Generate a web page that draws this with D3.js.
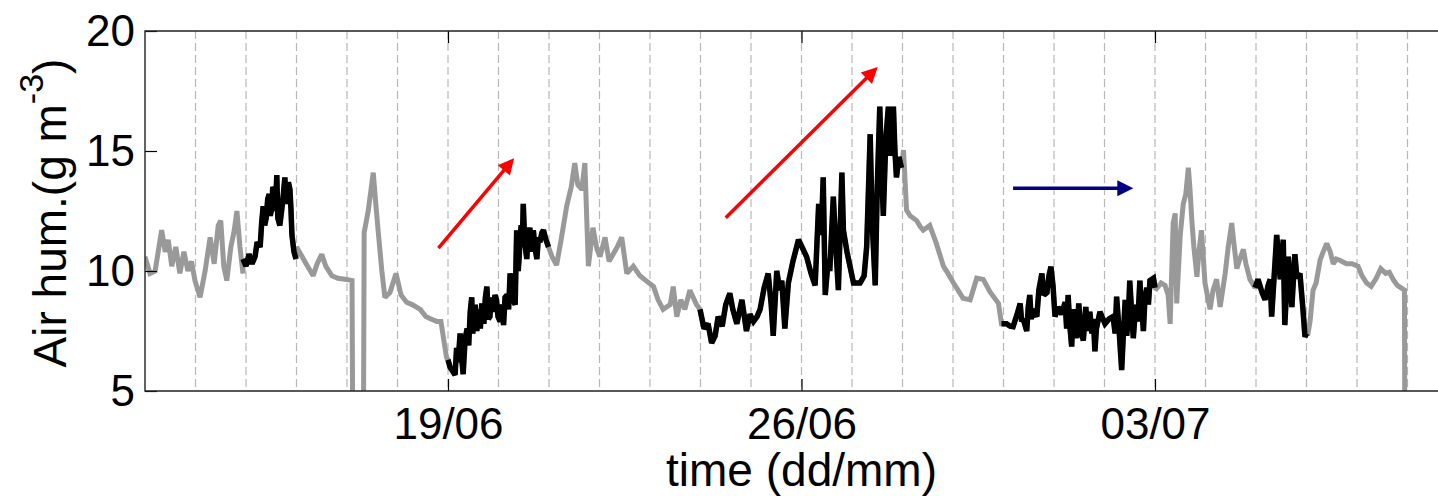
<!DOCTYPE html>
<head>
    <meta charset="utf-8">
    <script src="https://d3js.org/d3.v7.min.js"></script>
    <style>
        body { margin: 0; background: #fff; }
        svg text { font-family: "Liberation Sans", Arial, sans-serif; fill: #000; }
        .grid line { stroke: #b8b8b8; stroke-width: 1.2; stroke-dasharray: 8 4; }
        .axis path { display: none; }
        .axis line { stroke: #000; stroke-width: 1.2; }
        .axis text { font-size: 44px; }
    </style>
</head>
<body>
<svg id="chart" width="1438" height="496"></svg>
<script>
// air humidity (g m-3), [days since 13/06 00:00, value]
var grey1 = [[0.00,10.6],[0.10,9.9],[0.20,10.0],[0.33,11.7],[0.40,10.8],[0.46,11.3],[0.53,10.2],[0.61,11.0],
    [0.69,9.9],[0.77,10.8],[0.85,10.0],[0.92,10.4],[0.99,9.6],[1.09,8.9],[1.19,10.0],[1.29,11.4],[1.37,10.3],
    [1.45,11.9],[1.50,12.1],[1.56,10.2],[1.62,9.6],[1.70,11.0],[1.76,11.6],[1.82,12.5],[1.88,11.0],[1.94,9.9]];
var black1 = [[1.94,10.5],[2.00,10.2],[2.06,10.7],[2.12,10.3],[2.18,10.6],[2.22,11.2],[2.28,11.0],[2.31,12.0],
    [2.34,12.7],[2.37,11.9],[2.40,12.2],[2.43,13.0],[2.46,13.2],[2.48,12.3],[2.51,12.6],[2.53,13.5],[2.55,13.4],
    [2.58,12.5],[2.61,14.0],[2.63,12.2],[2.67,11.9],[2.71,12.6],[2.74,13.2],[2.77,13.9],[2.79,12.8],[2.81,13.0],
    [2.84,13.7],[2.87,13.4],[2.89,12.6],[2.91,11.5],[2.95,10.8],[2.99,10.5]];
var grey2 = [[3.00,11.0],[3.11,10.6],[3.19,10.3],[3.33,9.8],[3.41,10.3],[3.50,10.7],[3.58,10.2],[3.70,9.8],
    [3.82,9.7],[3.99,9.65],[4.10,9.6],[4.12,0],[4.32,0],[4.34,11.6],[4.42,12.5],[4.52,14.1],[4.57,12.8],
    [4.62,11.6],[4.69,10.0],[4.75,8.9],[4.85,9.1],[4.97,9.9],[5.07,9.0],[5.18,8.7],[5.29,8.6],[5.45,8.4],
    [5.56,8.1],[5.66,8.0],[5.78,7.9],[5.86,7.9],[5.97,6.4]];
var black2 = [[6.00,6.3],[6.04,6.0],[6.10,5.8],[6.14,5.67],[6.17,6.8],[6.20,6.2],[6.24,7.4],[6.27,6.4],
    [6.30,5.7],[6.34,7.2],[6.38,7.6],[6.41,6.9],[6.44,8.3],[6.47,8.9],[6.49,7.4],[6.51,7.8],[6.54,8.6],[6.57,7.5],
    [6.61,8.4],[6.64,7.6],[6.67,8.65],[6.71,7.8],[6.74,8.9],[6.77,9.35],[6.80,8.0],[6.83,8.1],[6.86,8.9],
    [6.89,8.3],[6.93,9.0],[6.96,8.8],[6.99,8.1],[7.03,7.9],[7.06,8.6],[7.10,7.75],[7.13,8.9],[7.17,9.0],
    [7.20,8.4],[7.23,9.9],[7.26,9.3],[7.29,8.8],[7.33,8.6],[7.36,11.7],[7.39,10.0],[7.41,10.6],[7.43,11.5],
    [7.45,11.9],[7.47,11.0],[7.49,12.8],[7.52,11.2],[7.56,10.5],[7.59,11.5],[7.62,11.8],[7.66,10.8],[7.69,11.7],
    [7.72,11.0],[7.76,10.5],[7.79,11.4],[7.82,11.2],[7.86,11.6],[7.89,11.7],[7.94,11.3],[7.99,11.0]];
var grey3 = [[8.06,10.6],[8.15,10.25],[8.24,11.3],[8.35,12.7],[8.44,13.5],[8.51,14.5],[8.57,13.6],[8.65,13.4],
    [8.71,14.5],[8.78,10.2],[8.87,11.8],[8.95,10.9],[9.01,10.6],[9.11,11.4],[9.19,10.4],[9.27,10.7],[9.35,11.0],
    [9.44,11.4],[9.54,9.9],[9.67,10.2],[9.80,9.8],[9.92,9.6],[10.07,9.35],[10.16,8.8],[10.26,8.4],[10.40,8.6],
    [10.46,9.35],[10.53,8.1],[10.61,8.8],[10.69,8.4],[10.79,9.2],[10.92,8.6],[10.99,8.4]];
var black3 = [[10.99,8.4],[11.07,7.6],[11.15,7.8],[11.22,7.0],[11.29,7.3],[11.35,8.1],[11.43,7.7],[11.50,8.6],
    [11.58,9.07],[11.64,8.4],[11.72,7.8],[11.82,8.8],[11.91,7.5],[11.98,8.2],[12.05,7.9],[12.12,8.1],[12.18,8.4],
    [12.26,9.3],[12.34,9.9],[12.40,8.6],[12.44,7.3],[12.51,10.0],[12.57,9.2],[12.61,9.6],[12.67,7.6],[12.74,9.5],
    [12.83,10.4],[12.94,11.3],[13.01,11.0],[13.10,10.6],[13.19,9.9],[13.27,9.4],[13.34,12.8],[13.39,11.5],
    [13.43,13.9],[13.47,9.0],[13.53,10.5],[13.56,10.0],[13.63,13.1],[13.68,11.0],[13.73,9.2],[13.80,14.1],
    [13.83,11.7],[13.90,10.8],[14.03,9.5],[14.16,9.5],[14.24,9.8],[14.29,11.0],[14.32,13.0],[14.36,15.7],
    [14.40,12.0],[14.46,9.4],[14.50,13.5],[14.55,16.85],[14.59,14.0],[14.62,12.3],[14.67,15.5],[14.72,16.85],
    [14.75,14.8],[14.79,15.8],[14.82,16.85],[14.85,15.0],[14.88,13.9],[14.93,14.75],[14.98,14.3]];
var grey4 = [[15.02,15.04],[15.08,12.54],[15.15,12.3],[15.28,12.1],[15.35,11.85],[15.41,11.7],[15.54,11.9],
    [15.67,11.15],[15.81,10.2],[15.90,9.9],[16.01,9.5],[16.10,9.2],[16.20,8.86],[16.34,8.8],[16.47,9.7],
    [16.60,9.65],[16.73,9.14],[16.90,8.65],[16.96,7.8]];
var black4 = [[16.96,7.8],[17.06,7.8],[17.13,7.7],[17.19,7.68],[17.27,8.2],[17.33,8.65],[17.36,7.9],[17.39,8.0],
    [17.46,7.5],[17.49,8.5],[17.52,9.0],[17.55,8.0],[17.58,8.4],[17.66,8.1],[17.70,9.2],[17.76,9.9],[17.80,9.0],
    [17.86,9.1],[17.90,9.8],[17.94,10.18],[17.98,9.4],[18.02,8.1],[18.08,8.5],[18.15,8.2],[18.22,8.7],[18.25,7.6],
    [18.28,9.0],[18.31,7.8],[18.35,6.85],[18.38,8.4],[18.42,8.0],[18.45,7.2],[18.49,8.65],[18.53,7.6],[18.58,7.1],
    [18.63,8.5],[18.66,7.5],[18.71,8.3],[18.75,7.4],[18.78,8.0],[18.81,6.65],[18.84,7.6],[18.87,7.9],[18.91,8.3],
    [19.01,7.8],[19.09,8.0],[19.17,8.1],[19.21,7.4],[19.24,8.93],[19.29,7.5],[19.34,5.875],[19.37,7.2],
    [19.41,8.8],[19.44,7.3],[19.47,8.0],[19.50,9.6],[19.54,8.2],[19.57,7.2],[19.62,8.6],[19.66,7.9],[19.70,9.6],
    [19.74,8.4],[19.77,7.5],[19.80,8.8],[19.84,9.3],[19.87,8.6],[19.90,9.6],[19.97,9.7],[20.00,9.3]];
var grey5 = [[20.03,9.26],[20.12,9.5],[20.20,9.4],[20.26,9.0],[20.30,7.8],[20.36,12.0],[20.40,12.4],[20.43,8.65],
    [20.50,11.5],[20.56,12.8],[20.61,13.2],[20.66,14.3],[20.69,13.5],[20.73,12.1],[20.77,11.0],[20.83,9.76],
    [20.87,10.8],[20.92,11.7],[20.99,9.5],[21.09,8.4],[21.15,9.2],[21.22,9.65],[21.29,8.5],[21.39,9.9],[21.45,11.0],
    [21.52,12.0],[21.56,11.2],[21.62,10.1],[21.68,10.5],[21.75,10.9],[21.80,10.3],[21.88,9.65],[21.98,9.3]];
var black5 = [[21.98,9.3],[22.04,9.65],[22.12,9.1],[22.18,8.8],[22.24,9.4],[22.28,9.65],[22.31,8.1],[22.36,9.8],
    [22.41,11.5],[22.48,9.65],[22.54,11.3],[22.57,7.75],[22.64,10.6],[22.71,8.5],[22.77,10.7],[22.81,9.7],
    [22.87,9.9],[22.93,8.4],[22.97,7.26],[23.00,7.4]];
var grey6 = [[23.03,7.4],[23.07,7.9],[23.13,9.2],[23.19,9.5],[23.27,10.46],[23.33,10.8],[23.40,11.15],[23.47,10.8],
    [23.53,10.3],[23.59,10.5],[23.66,10.45],[23.79,10.3],[23.90,10.3],[24.02,10.2],[24.10,9.8],[24.19,9.5],
    [24.28,9.36],[24.38,9.7],[24.47,10.1],[24.57,9.9],[24.64,9.95],[24.73,9.6],[24.80,9.4],[24.94,9.2],[24.95,0]];

var tickDates = ["2012-06-19", "2012-06-26", "2012-07-03"];
var yTicks = [5, 10, 15, 20];
// annotation arrows: [day0, value0, day1, value1, colour]
var arrows = [[5.81, 10.95, 7.31, 14.7, "#ff0000"], [11.50, 12.22, 14.51, 18.5, "#ff0000"],
    [17.19, 13.45, 19.57, 13.45, "#000080"]];

var start = new Date(Date.UTC(2012, 5, 13)), end = new Date(Date.UTC(2012, 6, 9));
var pLeft = 145, pTop = 31, pBottom = 391, pRight = 145 + 26 * 50.5;
var svg = d3.select("#chart");

function toDate(d) { return new Date(start.getTime() + d * 864e5); }

var x = d3.scaleUtc().domain([start, end]).range([pLeft, pRight]);
var y = d3.scaleLinear().domain([5, 20]).range([pBottom, pTop]);

svg.append("defs").append("clipPath").attr("id", "clip")
    .append("rect").attr("x", pLeft).attr("y", pTop).attr("width", pRight - pLeft).attr("height", pBottom - pTop);

// daily dashed grid
svg.append("g").attr("class", "grid")
    .selectAll("line")
    .data(d3.utcDay.range(d3.utcDay.offset(start, 1), end))
    .enter().append("line")
    .attr("x1", function (d) { return x(d); })
    .attr("x2", function (d) { return x(d); })
    .attr("y1", pTop).attr("y2", pBottom);

var line = d3.line()
    .x(function (d) { return x(toDate(d[0])); })
    .y(function (d) { return y(d[1]); });

var plot = svg.append("g").attr("clip-path", "url(#clip)");
var all = [].concat(grey1, black1, grey2, black2, grey3, black3, grey4, black4, grey5, black5, grey6);
plot.append("path").datum(all)
    .attr("d", line).attr("fill", "none").attr("stroke", "#999999")
    .attr("stroke-width", 5).attr("stroke-linejoin", "miter").attr("stroke-miterlimit", 2);
[black1, black2, black3, black4, black5].forEach(function (seg) {
    plot.append("path").datum(seg)
        .attr("d", line).attr("fill", "none").attr("stroke", "#000")
        .attr("stroke-width", 5.5).attr("stroke-linejoin", "miter").attr("stroke-miterlimit", 2);
});

// arrows
arrows.forEach(function (a) {
    var x0 = x(toDate(a[0])), y0 = y(a[1]), x1 = x(toDate(a[2])), y1 = y(a[3]);
    var len = Math.hypot(x1 - x0, y1 - y0), ux = (x1 - x0) / len, uy = (y1 - y0) / len;
    var hl = 16, hw = 8;
    var bx = x1 - ux * hl, by = y1 - uy * hl;
    svg.append("line").attr("x1", x0).attr("y1", y0).attr("x2", bx + ux * 2).attr("y2", by + uy * 2)
        .attr("stroke", a[4]).attr("stroke-width", 3.5);
    svg.append("polygon")
        .attr("points", [[x1, y1], [bx - uy * hw, by + ux * hw], [bx + uy * hw, by - ux * hw]].join(" "))
        .attr("fill", a[4]);
});

// axes
var ticks = tickDates.map(function (s) { return new Date(s + "T00:00:00Z"); });
svg.append("g").attr("class", "axis").attr("transform", "translate(0," + pBottom + ")")
    .call(d3.axisBottom(x).tickValues(ticks).tickFormat(d3.utcFormat("%d/%m"))
        .tickSizeInner(-12).tickSizeOuter(0).tickPadding(17));
svg.append("g").attr("class", "axis").attr("transform", "translate(0," + pTop + ")")
    .call(d3.axisTop(x).tickValues(ticks).tickFormat("").tickSizeInner(-12).tickSizeOuter(0));
svg.append("g").attr("class", "axis").attr("transform", "translate(" + pLeft + ",0)")
    .call(d3.axisLeft(y).tickValues(yTicks).tickSizeInner(-12).tickSizeOuter(0).tickPadding(10));

// frame
svg.append("path")
    .attr("d", "M" + (pRight + 20) + "," + pTop + "H" + pLeft + "V" + pBottom + "H" + (pRight + 20))
    .attr("fill", "none").attr("stroke", "#222").attr("stroke-width", 1.4);

svg.append("text").attr("x", (pLeft + pRight) / 2).attr("y", 486)
    .attr("text-anchor", "middle").style("font-size", "46px").text("time (dd/mm)");

var yl = svg.append("text").attr("transform", "translate(66,213) rotate(-90)")
    .attr("text-anchor", "middle").style("font-size", "46px");
yl.append("tspan").text("Air hum.(g m");
yl.append("tspan").attr("dy", -23).style("font-size", "34px").text("-3");
yl.append("tspan").attr("dy", 23).text(")");
</script>
</body>
